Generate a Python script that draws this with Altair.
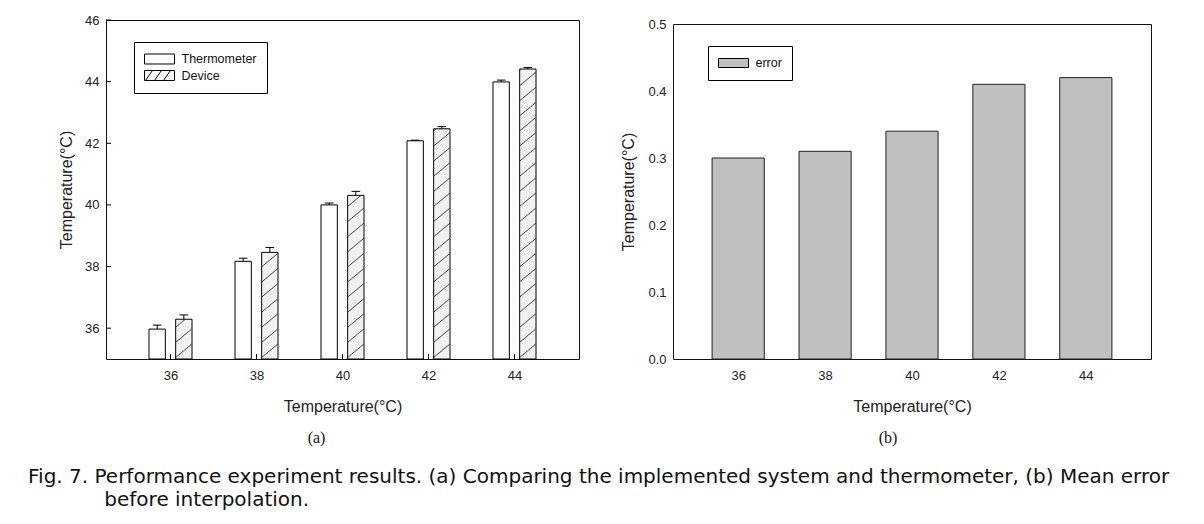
import altair as alt
import pandas as pd

# ---------------- data ----------------
temps = [36, 38, 40, 42, 44]
thermo = [35.97, 38.17, 40.00, 42.08, 43.99]
thermo_err = [0.13, 0.10, 0.06, 0.02, 0.06]
device = [36.29, 38.46, 40.31, 42.47, 44.41]
device_err = [0.14, 0.16, 0.13, 0.07, 0.05]
mean_error = [0.30, 0.31, 0.34, 0.41, 0.42]
series_names = ["Thermometer", "Device"]
error_names = ["error"]
left_ticks = [36, 38, 40, 42, 44, 46]
right_ticks = [0.0, 0.1, 0.2, 0.3, 0.4, 0.5]
x_ticks = [36, 38, 40, 42, 44]

x_title = "Temperature(°C)"
y_title = "Temperature(°C)"
caption_lines = [
    "Fig. 7. Performance experiment results. (a) Comparing the implemented system and thermometer, (b) Mean error",
    "\u200b" + "\u00a0" * 12 + "before interpolation.",
]

# ---------------- style ----------------
FONT = "Liberation Sans"
LW, LH = 473, 339
RW, RH = 478, 335
GH, GAP = 0.5, 0.24          # half group width, gap between paired bars (x units)
CAP = 0.1                    # error-bar cap half width (x units)
STEP, RISE = 0.49, 0.44      # hatch spacing / rise (y units)
P_PLAIN = "M-1,-0.333H1V0.333H-1Z"
P_HATCH = ("M-1,-0.333H1V0.333H-1Z"
           "M-0.93,0.333L-0.47,-0.333M-0.33,0.333L0.13,-0.333M0.27,0.333L0.73,-0.333")
P_ERR = "M-1,-0.3H1V0.3H-1Z"

left_rows = []
for i, t in enumerate(temps):
    left_rows.append({"t": t, "series": series_names[0], "value": thermo[i], "err": thermo_err[i]})
    left_rows.append({"t": t, "series": series_names[1], "value": device[i], "err": device_err[i]})
left_df = pd.DataFrame(left_rows)
right_df = pd.DataFrame({"t": temps, "err": mean_error, "series": error_names * len(temps)})

xscale = alt.Scale(domain=[34.5, 45.5], nice=False, zero=False)
yscale = alt.Scale(domain=[35, 46], nice=False, zero=False)
rxscale = alt.Scale(domain=[34.5, 45.5], nice=False, zero=False)
ryscale = alt.Scale(domain=[0, 0.5], nice=False, zero=False)

LX_AXIS = alt.Axis(values=x_ticks, format="d", title=x_title, labelPadding=10, titlePadding=16)
LY_AXIS = alt.Axis(values=left_ticks, format="d", title=y_title, labelPadding=7, titlePadding=10)
RX_AXIS = alt.Axis(values=x_ticks, format="d", title=x_title, labelPadding=10, titlePadding=16)
RY_AXIS = alt.Axis(values=right_ticks, format=".1f", title=y_title, labelPadding=7, titlePadding=11)


def lx(field):
    return alt.X(field, scale=xscale, axis=LX_AXIS)


def ly(field):
    return alt.Y(field, scale=yscale, axis=LY_AXIS)


def legend(x, y, row_pad=2.5):
    return alt.Legend(title=None, orient="none", legendX=x, legendY=y, direction="vertical",
                      strokeColor="black", fillColor="white", padding=10, symbolSize=900,
                      symbolStrokeWidth=1, symbolOpacity=1, labelFont=FONT, labelFontSize=12.5,
                      labelColor="#111", labelOffset=6.5, rowPadding=row_pad, clipHeight=14)


base = alt.Chart(left_df).transform_calculate(
    x1=f"datum.t + (datum.series == 'Thermometer' ? {-GH} : {GAP / 2})",
).transform_calculate(
    x2=f"datum.t + (datum.series == 'Thermometer' ? {-GAP / 2} : {GH})",
).transform_calculate(
    xc="(datum.x1 + datum.x2) / 2",
    top="datum.value + datum.err",
)

bars = base.mark_bar(stroke="black", strokeWidth=1).encode(
    x=lx("x1:Q"),
    x2="x2:Q",
    y=ly("value:Q"),
    y2=alt.datum(35),
    fill=alt.condition("datum.series == 'Device'", alt.value("#f1f1f1"), alt.value("white")),
)

hatch = base.transform_filter("datum.series == 'Device'").transform_calculate(
    k="sequence(0, 30)"
).transform_flatten(["k"]).transform_calculate(
    hy0=f"35 - {RISE} + datum.k * {STEP}"
).transform_filter("datum.hy0 < datum.value").transform_calculate(
    ya="max(datum.hy0, 35)",
    yb=f"min(datum.hy0 + {RISE}, datum.value)",
).transform_calculate(
    xa=f"datum.x1 + (datum.ya - datum.hy0) / {RISE} * (datum.x2 - datum.x1)",
    xb=f"datum.x1 + (datum.yb - datum.hy0) / {RISE} * (datum.x2 - datum.x1)",
).mark_rule(color="#333333", strokeWidth=0.9).encode(
    x=lx("xa:Q"), x2="xb:Q", y=ly("ya:Q"), y2="yb:Q",
)

errv = base.mark_rule(color="black", strokeWidth=1).encode(
    x=lx("xc:Q"), y=ly("value:Q"), y2="top:Q",
)
cap = base.transform_calculate(
    c1=f"datum.xc - {CAP}", c2=f"datum.xc + {CAP}"
).mark_rule(color="black", strokeWidth=1).encode(
    x=lx("c1:Q"), x2="c2:Q", y=ly("top:Q"),
)

yticks = alt.Chart(pd.DataFrame({"v": left_ticks})).mark_rule(color="black").encode(
    y=ly("v:Q"), x=alt.value(0), x2=alt.value(5))
xticks = alt.Chart(pd.DataFrame({"v": x_ticks})).mark_rule(color="black").encode(
    x=lx("v:Q"), y=alt.value(LH), y2=alt.value(LH - 5))

LLEG = legend(28, 22)
leg_left = alt.Chart(left_df).transform_filter("false").mark_point(
    filled=True, strokeWidth=1, opacity=1
).encode(
    shape=alt.Shape("series:N", scale=alt.Scale(domain=series_names, range=[P_PLAIN, P_HATCH]),
                    legend=LLEG),
    fill=alt.Fill("series:N", scale=alt.Scale(domain=series_names, range=["white", "white"]),
                  legend=LLEG),
    stroke=alt.Stroke("series:N", scale=alt.Scale(domain=series_names, range=["black", "black"]),
                      legend=LLEG),
)

left = alt.layer(bars, hatch, errv, cap, yticks, xticks, leg_left).properties(
    width=LW, height=LH,
    title=alt.TitleParams("(a)", orient="bottom", anchor="middle", font="Liberation Serif",
                          fontSize=16, fontWeight="normal", color="#111", offset=16, dx=-26),
)

rbase = alt.Chart(right_df).transform_calculate(x1="datum.t - 0.6", x2="datum.t + 0.6")
rbars = rbase.mark_bar(fill="#c0c0c0", stroke="#222222", strokeWidth=1).encode(
    x=alt.X("x1:Q", scale=rxscale, axis=RX_AXIS),
    x2="x2:Q",
    y=alt.Y("err:Q", scale=ryscale, axis=RY_AXIS),
    y2=alt.datum(0),
)
RLEG = legend(35, 26)
leg_right = alt.Chart(right_df).transform_filter("false").mark_point(
    filled=True, strokeWidth=1, opacity=1
).encode(
    shape=alt.Shape("series:N", scale=alt.Scale(domain=error_names, range=[P_ERR]), legend=RLEG),
    fill=alt.Fill("series:N", scale=alt.Scale(domain=error_names, range=["#c0c0c0"]), legend=RLEG),
    stroke=alt.Stroke("series:N", scale=alt.Scale(domain=error_names, range=["black"]), legend=RLEG),
)
right_inner = alt.layer(rbars, leg_right).properties(
    width=RW, height=RH,
    title=alt.TitleParams("(b)", orient="bottom", anchor="middle", font="Liberation Serif",
                          fontSize=16, fontWeight="normal", color="#111", offset=16, dx=-24),
)
# empty spacer that lowers panel (b) a few pixels, as in the reference
spacer = alt.Chart(right_df).transform_filter("false").mark_point().properties(
    width=RW, height=1, view=alt.ViewBackground(strokeOpacity=0))
right = alt.vconcat(spacer, right_inner, spacing=3, bounds="flush")

chart = alt.hconcat(left, right, spacing=40).resolve_scale(
    shape="independent", fill="independent", stroke="independent"
).resolve_legend(shape="independent", fill="independent", stroke="independent").properties(
    padding={"left": 20, "top": 5, "right": 0, "bottom": 0},
    title=alt.TitleParams(caption_lines, orient="bottom", anchor="start", font="DejaVu Sans",
                          fontSize=20, fontWeight="normal", color="#111", lineHeight=23,
                          offset=20, dx=-30),
).configure_view(stroke="#111111", strokeWidth=1).configure_axis(
    grid=False, domain=False, ticks=False, tickSize=0,
    labelFont=FONT, labelFontSize=13, labelColor="#222",
    titleFont=FONT, titleFontSize=16, titleFontWeight="normal", titleColor="#222",
)

chart.save("out.html", embed_options={"renderer": "svg", "actions": False})
